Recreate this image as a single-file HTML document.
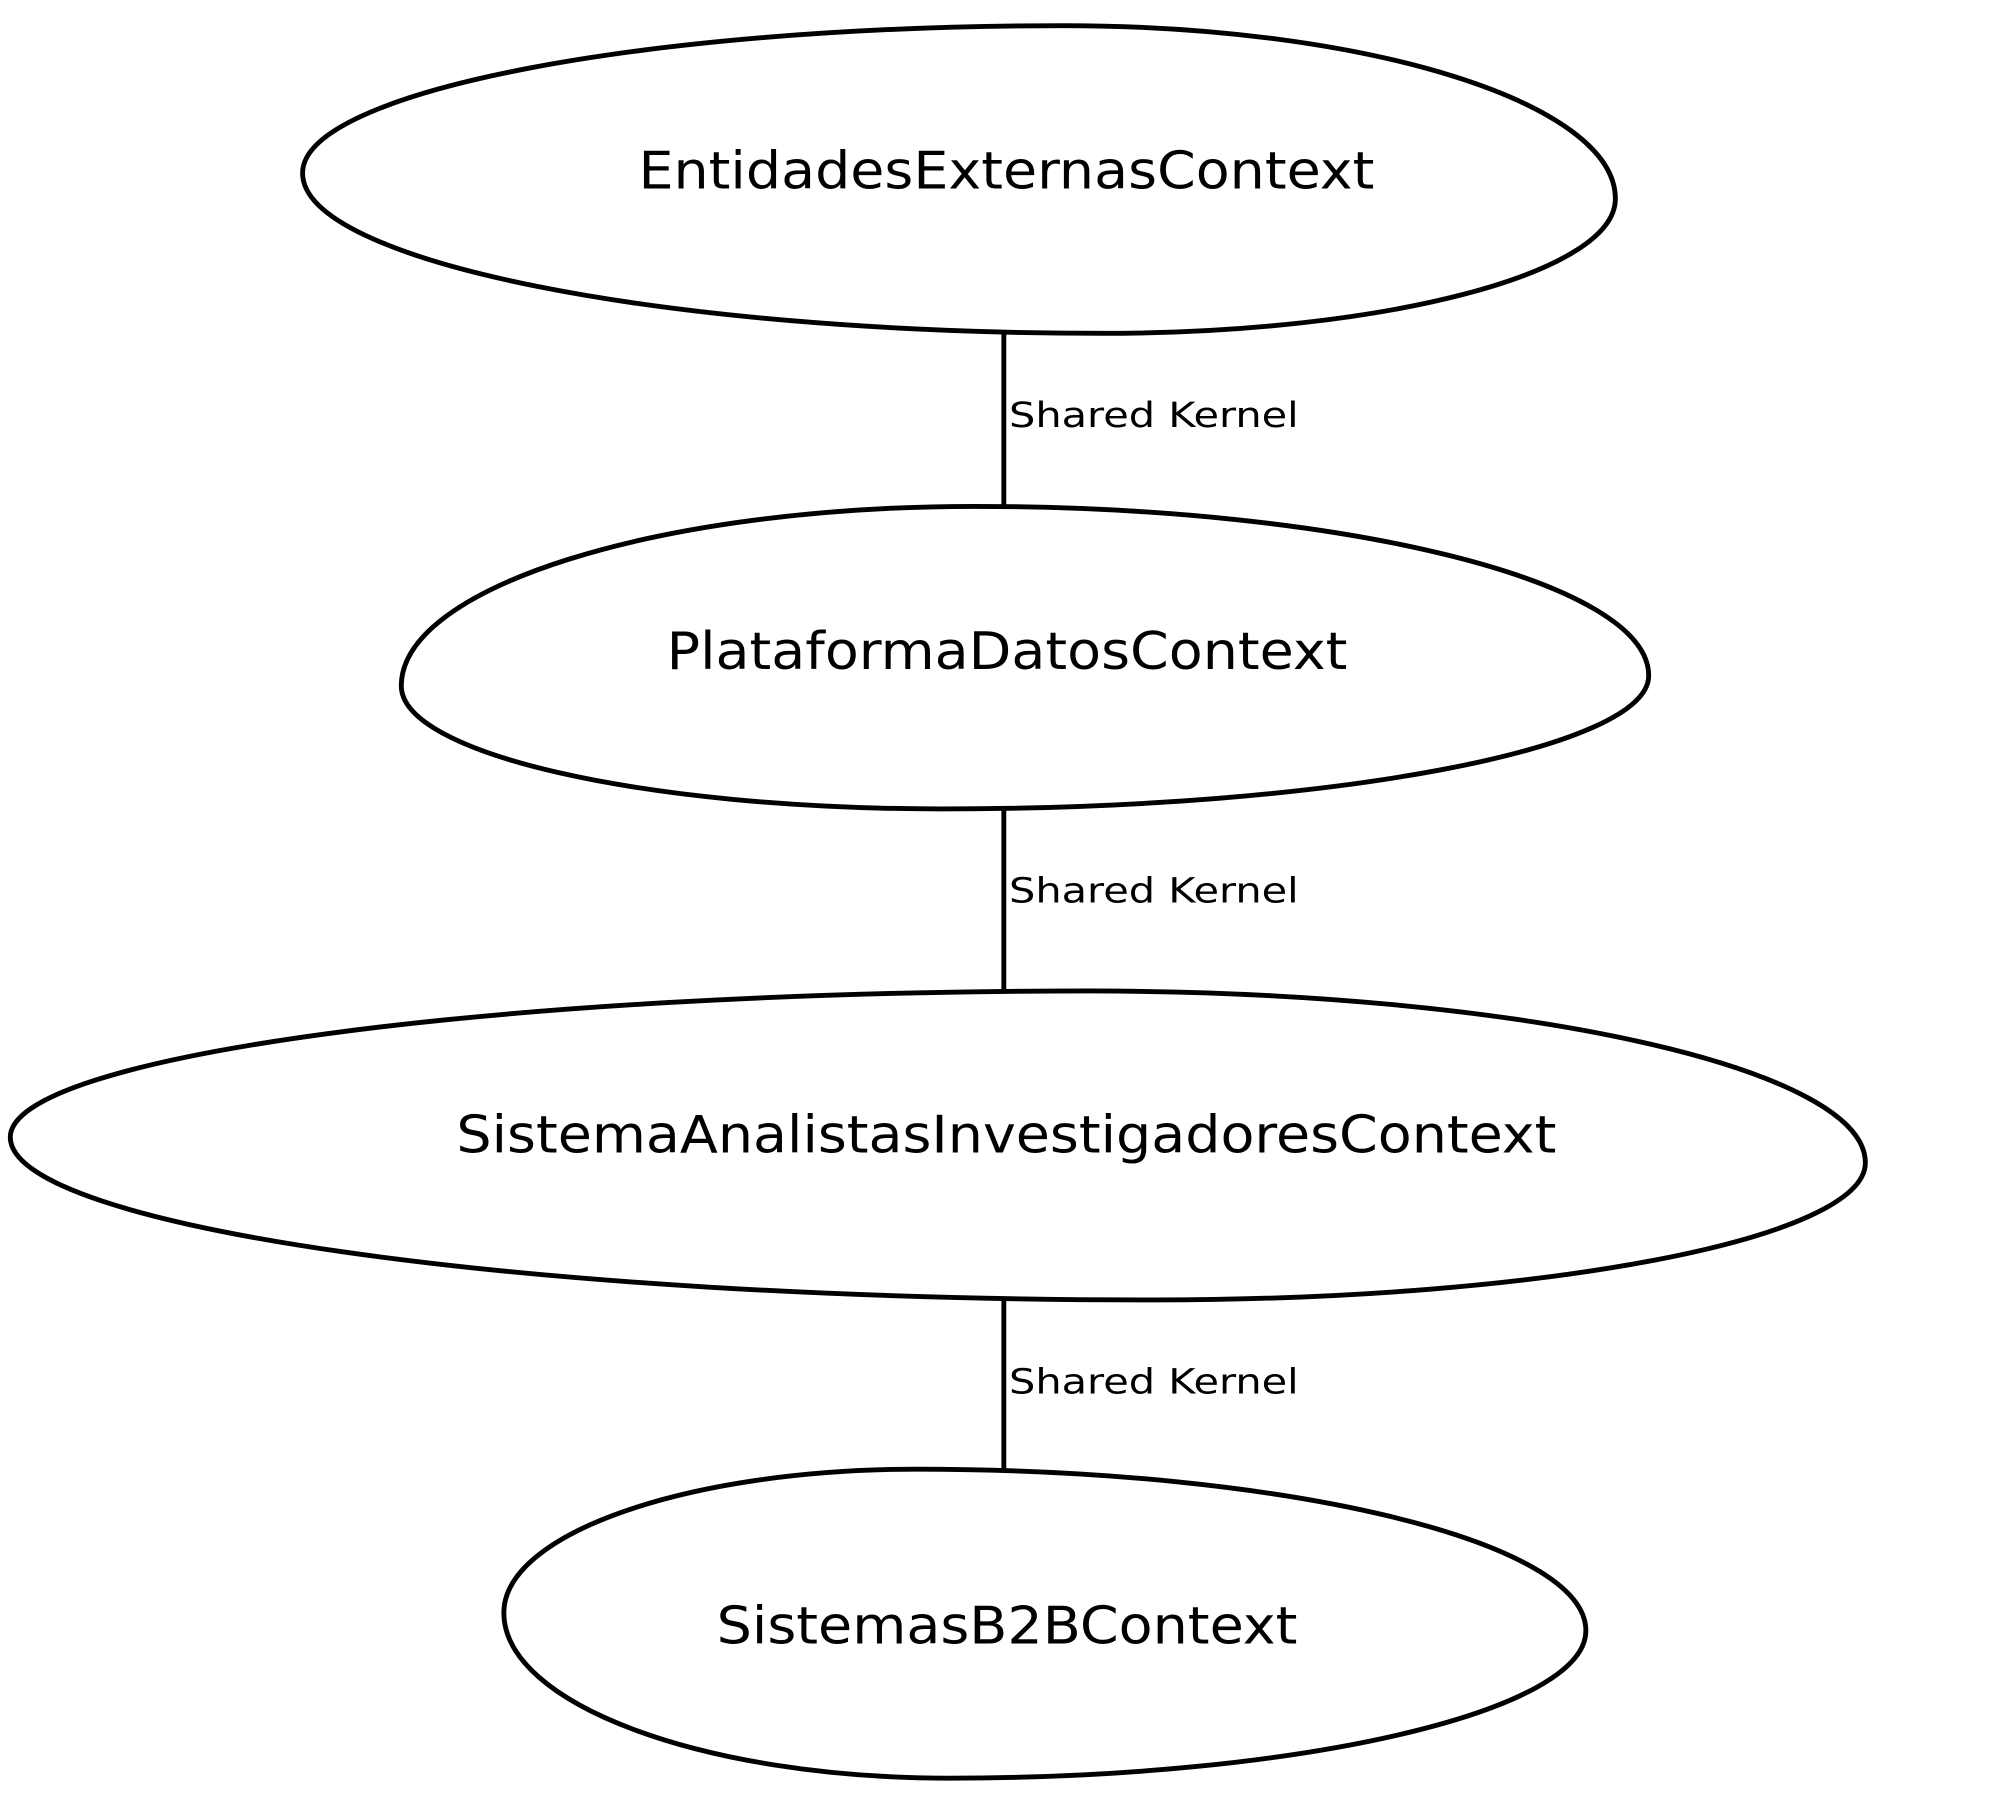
<!DOCTYPE html>
<html><head><meta charset="utf-8"><style>html,body{margin:0;padding:0;background:#fff}svg{display:block}</style></head>
<body>
<svg width="2000" height="1797" viewBox="0 0 1560 1401.7" xmlns="http://www.w3.org/2000/svg">
<g fill="none" stroke="#000" stroke-width="3.8">
<path d="M236,135 C236,71.5 502,20 830,20 C1067,20 1260,80.5 1260,155 C1260,213 1081,260 860,260 C516,260 236,204 236,135 Z"/>
<path d="M313,535 C313,458 513,395 760,395 C1050,395 1286,454 1286,527 C1286,584 1039,631 735,631 C502,631 313,588 313,535 Z"/>
<path d="M8,887 C8,824 385,773 850,773 C1184,773 1455,833 1455,907 C1455,966 1206,1014 900,1014 C408,1014 8,957 8,887 Z"/>
<path d="M393,1258 C393,1196 537,1146 715,1146 C1003,1146 1237,1202 1237,1272 C1237,1335 1014,1387 740,1387 C548,1387 393,1329 393,1258 Z"/>
<line x1="783" y1="259" x2="783" y2="395"/>
<line x1="783" y1="631" x2="783" y2="773"/>
<line x1="783" y1="1014" x2="783" y2="1146"/>
</g>
<g font-family="'DejaVu Sans','Liberation Sans',sans-serif" fill="#000">
<text x="498" y="147" font-size="40" textLength="574" lengthAdjust="spacingAndGlyphs">EntidadesExternasContext</text>
<text x="520" y="522" font-size="40" textLength="531" lengthAdjust="spacingAndGlyphs">PlataformaDatosContext</text>
<text x="356" y="899" font-size="40" textLength="858" lengthAdjust="spacingAndGlyphs">SistemaAnalistasInvestigadoresContext</text>
<text x="559" y="1282" font-size="40" textLength="453" lengthAdjust="spacingAndGlyphs">SistemasB2BContext</text>
<text x="787" y="333" font-size="27" textLength="226" lengthAdjust="spacingAndGlyphs">Shared Kernel</text>
<text x="787" y="704" font-size="27" textLength="226" lengthAdjust="spacingAndGlyphs">Shared Kernel</text>
<text x="787" y="1087" font-size="27" textLength="226" lengthAdjust="spacingAndGlyphs">Shared Kernel</text>
</g>
</svg>
</body></html>
